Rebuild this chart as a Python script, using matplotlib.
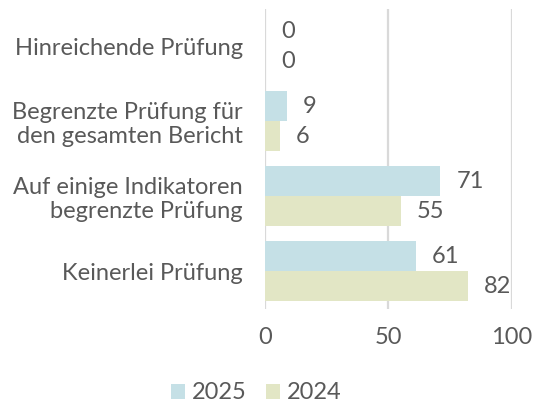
import numpy as np
import matplotlib.pyplot as plt
from matplotlib.patches import Patch

categories = ["Hinreichende Prüfung",
              "Begrenzte Prüfung für\nden gesamten Bericht",
              "Auf einige Indikatoren\nbegrenzte Prüfung",
              "Keinerlei Prüfung"]
values_2025 = [0, 9, 71, 61]
values_2024 = [0, 6, 55, 82]
series_names = ["2025", "2024"]
x_ticks = [0, 50, 100]

plt.rcParams['font.family'] = ['Lato', 'DejaVu Sans']
text_color = "#595959"
blue = "#C5E0E6"
green = "#E2E6C5"
grid_color = "#D9D9D9"

fig = plt.figure(figsize=(5.34, 4.05), dpi=100)
ax = fig.add_axes([0.496, 0.238, 0.463, 0.741])

y = np.arange(len(categories))
h = 0.4
bars1 = ax.barh(y - h / 2, values_2025, height=h, color=blue, zorder=2)
bars2 = ax.barh(y + h / 2, values_2024, height=h, color=green, zorder=2)

for bars in (bars1, bars2):
    for b in bars:
        w = b.get_width()
        ax.annotate(str(int(w)), (w, b.get_y() + b.get_height() / 2),
                    xytext=(11.5, 0), textcoords="offset points",
                    ha="left", va="center", fontsize=17, color=text_color)

ax.set_xlim(0, 100)
ax.set_ylim(len(categories) - 0.5, -0.5)
ax.set_xticks(x_ticks)
ax.set_xticklabels([str(t) for t in x_ticks])
ax.set_yticks(y)
ax.set_yticklabels(categories, ha="right", multialignment="right")
ax.tick_params(axis="both", length=0, labelsize=17, labelcolor=text_color)
ax.tick_params(axis="x", pad=13)
ax.tick_params(axis="y", pad=16)
ax.xaxis.grid(True, color=grid_color, linewidth=1.6, zorder=0)
for s in ax.spines.values():
    s.set_visible(False)

handles = [Patch(facecolor=blue), Patch(facecolor=green)]
fig.legend(handles, series_names, loc="center", bbox_to_anchor=(0.48, 0.03),
           ncol=2, frameon=False, fontsize=17, labelcolor=text_color,
           handlelength=0.6, handleheight=0.6, handletextpad=0.3,
           columnspacing=0.8)

fig.savefig("out.png", dpi=100)
